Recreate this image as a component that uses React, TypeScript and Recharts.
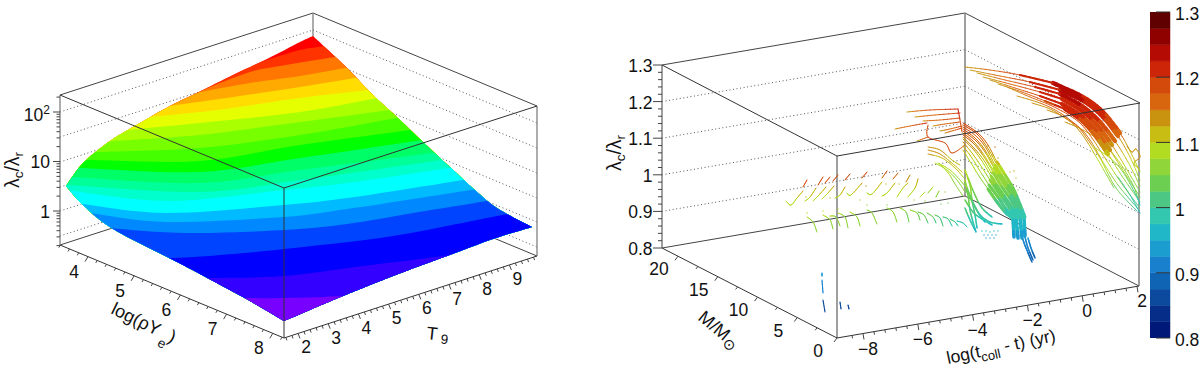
import React from 'react';
import { ScatterChart, Scatter, XAxis, YAxis, BarChart, Bar } from 'recharts';

type P = { x: number; y: number; v?: number };
type Label = { x: number; y: number; parts: { t: string; s?: number; z?: number }[]; anchor?: string; rot?: number; size?: number };

const FONT = '"Liberation Sans", "DejaVu Sans", sans-serif';

// ---------- left panel, plane coordinates of the projected box ----------
const surfaceEdgeUpperLeft: number[][] = [[66, 186], [83, 163], [110, 141], [133, 127], [170, 106], [203, 90], [233, 75], [267, 59], [300, 42], [313, 36]];
const surfaceEdgeUpperRight: number[][] = [[313, 36], [347, 68], [373, 95], [397, 117], [423, 142], [465, 181], [490, 203], [507, 214], [532, 227]];
const surfaceEdgeLowerRight: number[][] = [[532, 227], [493, 239], [447, 256], [393, 276], [343, 296], [284, 321]];
const surfaceEdgeLowerLeft: number[][] = [[284, 321], [250, 301], [213, 281], [177, 262], [113, 229], [83, 205], [66, 186]];
const surfaceColors = ['#ff0000', '#ff3300', '#ff7700', '#ffaa00', '#ffdd00', '#e6ff00', '#aaff00', '#77ff00', '#44ff00', '#00ff00', '#00ff66', '#00ff99', '#00ffcc', '#00ffff', '#00bbff', '#0088ff', '#0044ff', '#0000ff', '#3300ff', '#7700ff'];
const surfaceContours: number[][][] = [
  [[210, 82], [228, 74], [267, 60], [300, 50], [325, 46], [345, 42]],
  [[190, 97], [203, 90], [250, 72], [280, 66], [335, 57], [355, 54]],
  [[180, 100], [197, 93], [250, 83], [300, 76], [345, 68], [365, 65]],
  [[155, 110], [170, 106], [233, 97], [300, 87], [355, 78], [375, 75]],
  [[135, 120], [150, 117], [217, 110], [300, 98], [368, 90], [385, 87]],
  [[115, 133], [128, 130], [200, 123], [300, 112], [378, 98], [395, 95]],
  [[100, 143], [115, 141], [200, 135], [300, 122], [390, 110], [405, 107]],
  [[85, 153], [100, 152], [200, 148], [300, 135], [397, 118], [415, 115]],
  [[75, 160], [90, 160], [200, 161], [300, 145], [410, 130], [425, 127]],
  [[65, 168], [82, 168], [200, 172], [300, 158], [423, 140], [440, 137]],
  [[55, 176], [72, 177], [200, 183], [300, 170], [432, 153], [450, 150]],
  [[50, 184], [68, 185], [200, 192], [300, 180], [442, 160], [460, 157]],
  [[50, 188], [66, 190], [167, 201], [284, 190], [347, 183], [450, 168], [470, 165]],
  [[65, 200], [83, 204], [167, 213], [284, 205], [347, 198], [413, 188], [463, 180], [480, 177]],
  [[80, 210], [97, 214], [167, 222], [284, 217], [347, 209], [413, 199], [477, 189], [495, 186]],
  [[92, 224], [110, 228], [187, 233], [284, 230], [347, 224], [413, 213], [487, 201], [505, 198]],
  [[150, 255], [173, 258], [233, 254], [284, 249], [380, 238], [447, 226], [497, 216], [520, 212]],
  [[190, 278], [210, 278], [284, 276], [363, 266], [443, 256], [460, 252]],
  [[225, 298], [243, 298], [284, 298], [343, 296], [360, 293]],
];
const leftGridValues = [112, 137, 162, 187, 211, 236];
const leftZMajor = [1, 10, 100];
const leftZMinor = [0.2, 0.3, 0.4, 0.5, 0.6, 0.7, 0.8, 0.9, 2, 3, 4, 5, 6, 7, 8, 9, 20, 30, 40, 50, 60, 70, 80, 90, 200];
const rhoMajor = [4, 5, 6, 7, 8];
const rhoMinor = [3.4, 3.6, 3.8, 4.2, 4.4, 4.6, 4.8, 5.2, 5.4, 5.6, 5.8, 6.2, 6.4, 6.6, 6.8, 7.2, 7.4, 7.6, 7.8, 8.2];
const t9Major = [2, 3, 4, 5, 6, 7, 8, 9];
const t9Minor = [1.6, 1.8, 2.2, 2.4, 2.6, 2.8, 3.2, 3.4, 3.6, 3.8, 4.2, 4.4, 4.6, 4.8, 5.2, 5.4, 5.6, 5.8, 6.2, 6.4, 6.6, 6.8, 7.2, 7.4, 7.6, 7.8, 8.2, 8.4, 8.6, 8.8, 9.2, 9.4, 9.6, 9.8];

// ---------- right panel ----------
const rightZMajor = [0.8, 0.9, 1, 1.1, 1.2, 1.3];
const rightZMinor = [0.82, 0.84, 0.86, 0.88, 0.92, 0.94, 0.96, 0.98, 1.02, 1.04, 1.06, 1.08, 1.12, 1.14, 1.16, 1.18, 1.22, 1.24, 1.26, 1.28];
const rightZLabels = ['0.8', '0.9', '1', '1.1', '1.2', '1.3'];
const massMajor = [0, 5, 10, 15, 20];
const massMinor = [2.5, 7.5, 12.5, 17.5];
const timeMajor = [-8, -6, -4, -2, 0, 2];
const timeMinor = [-8.4, -7.6, -7.2, -6.8, -6.4, -5.6, -5.2, -4.8, -4.4, -3.6, -3.2, -2.8, -2.4, -1.6, -1.2, -0.8, -0.4, 0.4, 0.8, 1.2, 1.6];

// Colour bar
const barLevels = ['#001878', '#062e88', '#0b4a9c', '#1064b4', '#1880cc', '#1b9dcf', '#20b8c8', '#33c7b0', '#4dc884', '#6ccf52', '#90d53a', '#b2dc22', '#c8bd12', '#c9920f', '#d8660f', '#d44a0b', '#cc2508', '#b50b05', '#8f0000', '#600000'];
const barTicks = [0.8, 0.9, 1, 1.1, 1.2, 1.3];

// Tracks as [plane x, plane y, lambda ratio]
const lateTracks: number[][][] = [
  [[965, 67, 1.13], [990, 70, 1.16], [1020, 75, 1.2], [1053, 83, 1.225], [1083, 97, 1.225], [1103, 112, 1.21], [1120, 133, 1.17], [1132, 155, 1.11], [1140, 172, 1.07]],
  [[970, 70, 1.13], [1000, 76, 1.16], [1030, 82, 1.2], [1060, 90, 1.225], [1085, 102, 1.225], [1103, 117, 1.21], [1118, 136, 1.16], [1130, 157, 1.11], [1140, 180, 1.06]],
  [[977, 73, 1.13], [1005, 80, 1.16], [1035, 87, 1.2], [1060, 94, 1.225], [1082, 106, 1.225], [1100, 122, 1.2], [1115, 141, 1.15], [1128, 162, 1.1], [1140, 186, 1.05]],
  [[983, 77, 1.13], [1010, 84, 1.16], [1040, 92, 1.2], [1062, 99, 1.22], [1082, 111, 1.22], [1098, 126, 1.19], [1112, 145, 1.14], [1126, 168, 1.09], [1140, 192, 1.04]],
  [[990, 80, 1.13], [1015, 88, 1.16], [1040, 96, 1.2], [1062, 104, 1.22], [1080, 115, 1.21], [1096, 130, 1.18], [1110, 150, 1.13], [1124, 172, 1.08], [1140, 197, 1.03]],
  [[998, 84, 1.13], [1022, 92, 1.16], [1045, 101, 1.19], [1065, 109, 1.21], [1080, 119, 1.2], [1094, 134, 1.17], [1108, 154, 1.12], [1122, 176, 1.07], [1140, 202, 1.02]],
  [[1007, 87, 1.13], [1030, 97, 1.16], [1050, 105, 1.18], [1067, 114, 1.2], [1080, 123, 1.19], [1092, 138, 1.16], [1105, 158, 1.11], [1120, 181, 1.06], [1139, 207, 1.0]],
  [[1017, 96, 1.13], [1040, 103, 1.15], [1057, 111, 1.17], [1070, 120, 1.18], [1082, 130, 1.17], [1092, 143, 1.15], [1103, 162, 1.1], [1118, 185, 1.05], [1139, 210, 0.99]],
  [[1032, 103, 1.13], [1050, 109, 1.14], [1065, 118, 1.16], [1078, 127, 1.16], [1088, 140, 1.14], [1100, 158, 1.1], [1116, 188, 1.04], [1137, 211, 0.99]],
  [[1047, 110, 1.13], [1060, 115, 1.14], [1072, 123, 1.15], [1084, 137, 1.14], [1098, 160, 1.09], [1114, 188, 1.04]],
  [[1065, 122, 1.13], [1083, 130, 1.13], [1103, 143, 1.12], [1120, 163, 1.09], [1133, 185, 1.04], [1139, 202, 1.02]],
  [[1095, 148, 1.09], [1110, 158, 1.08], [1123, 172, 1.05], [1136, 195, 1.0], [1140, 205, 0.99]],
  [[1118, 177, 1.02], [1130, 195, 1.0], [1140, 213, 0.97]],
  [[1127, 146, 1.15], [1132, 152, 1.15], [1136, 149, 1.15], [1140, 157, 1.14], [1134, 163, 1.12], [1140, 170, 1.1]],
];
const shellLines: number[][][] = [
  [[907, 112, 1.14], [930, 110, 1.18], [958, 109, 1.22]],
  [[915, 117, 1.14], [935, 115, 1.17], [960, 113, 1.21]],
  [[923, 121, 1.14], [940, 120, 1.17], [960, 118, 1.2]],
  [[895, 129, 1.14], [910, 126, 1.17], [927, 123, 1.22]],
  [[933, 126, 1.14], [945, 124, 1.16], [960, 122, 1.19]],
  [[940, 131, 1.14], [950, 129, 1.16], [962, 126, 1.19]],
  [[945, 133, 1.14], [952, 131, 1.16], [962, 128, 1.19]],
  [[917, 141, 1.14], [928, 137, 1.18]],
  [[958, 109, 1.22], [960, 120, 1.2], [962, 132, 1.18]],
  [[928, 125, 1.2], [928, 137, 1.19], [945, 143, 1.19], [952, 153, 1.18], [965, 145, 1.17]],
  [[928, 147, 1.14], [940, 150, 1.13], [952, 160, 1.12], [960, 165, 1.11]],
  [[928, 150, 1.14], [940, 154, 1.13], [953, 164, 1.12], [962, 172, 1.1]],
  [[928, 154, 1.13], [942, 158, 1.12], [955, 168, 1.11], [964, 178, 1.09]],
  [[935, 163, 1.09], [947, 170, 1.08], [957, 180, 1.07], [965, 192, 1.05]],
  [[938, 163, 1.09], [950, 170, 1.08], [960, 180, 1.06], [965, 186, 1.05]],
  [[941, 165, 1.09], [949, 174, 1.08], [955, 184, 1.06], [963, 196, 1.05]],
];
const mainFan: number[][][] = [
  [[963, 123, 1.2], [978, 133, 1.18], [988, 145, 1.15], [997, 162, 1.11], [1007, 178, 1.07], [1015, 192, 1.03], [1025, 217, 0.98]],
  [[963, 127, 1.19], [976, 136, 1.17], [986, 148, 1.14], [995, 165, 1.1], [1005, 181, 1.06], [1014, 195, 1.03], [1023, 218, 0.98]],
  [[963, 131, 1.18], [975, 140, 1.16], [985, 152, 1.13], [994, 168, 1.09], [1004, 184, 1.06], [1013, 198, 1.02], [1021, 218, 0.98]],
  [[963, 135, 1.16], [974, 144, 1.15], [984, 157, 1.12], [993, 172, 1.08], [1002, 187, 1.05], [1011, 200, 1.02], [1020, 218, 0.98]],
  [[963, 139, 1.15], [973, 149, 1.13], [982, 161, 1.1], [991, 176, 1.07], [1000, 190, 1.04], [1009, 203, 1.01], [1018, 218, 0.98]],
  [[963, 142, 1.13], [972, 153, 1.12], [981, 166, 1.09], [990, 180, 1.06], [999, 193, 1.04], [1008, 206, 1.01], [1016, 218, 0.98]],
  [[963, 146, 1.12], [972, 158, 1.1], [980, 171, 1.08], [989, 185, 1.05], [998, 197, 1.03], [1006, 209, 1.0], [1014, 218, 0.98]],
  [[963, 150, 1.11], [971, 163, 1.09], [979, 176, 1.07], [988, 189, 1.05], [997, 202, 1.02], [1005, 212, 1.0], [1012, 218, 0.98]],
];
const mainFanUpperExtra: number[][][] = [
  [[963, 125, 1.2], [977, 134, 1.18], [987, 147, 1.14], [996, 163, 1.1]],
  [[963, 129, 1.19], [975, 138, 1.17], [985, 150, 1.13], [994, 166, 1.09]],
  [[963, 133, 1.17], [974, 142, 1.15], [984, 155, 1.12], [993, 170, 1.08]],
  [[963, 137, 1.15], [973, 147, 1.14], [983, 159, 1.11], [992, 174, 1.07]],
];
const fanBlock: number[][][] = [
  [[1013, 218, 0.98], [1014, 237, 0.94]],
  [[1016, 218, 0.98], [1018, 238, 0.94]],
  [[1020, 218, 0.98], [1022, 238, 0.94]],
  [[1024, 218, 0.98], [1025, 236, 0.94]],
];
const fanTail: number[][][] = [
  [[1022, 237, 0.93], [1026, 248, 0.91], [1032, 262, 0.88]],
  [[1025, 237, 0.93], [1028, 248, 0.91], [1033, 260, 0.88]],
  [[1028, 238, 0.93], [1031, 248, 0.91], [1035, 258, 0.88]],
];
const lowerFan: number[][][] = [
  [[965, 170, 1.09], [970, 185, 1.07], [972, 200, 1.04], [975, 215, 1.0], [977, 228, 0.97]],
  [[965, 180, 1.08], [968, 195, 1.05], [970, 210, 1.02], [973, 222, 0.99], [976, 232, 0.97]],
  [[966, 190, 1.05], [974, 205, 1.02], [980, 215, 1.0], [990, 222, 0.98], [1002, 224, 0.97]],
  [[965, 200, 1.04], [973, 212, 1.01], [982, 219, 0.99], [992, 225, 0.97]],
  [[965, 208, 1.02], [970, 220, 0.99], [975, 230, 0.97]],
  [[968, 178, 1.07], [975, 195, 1.04], [982, 208, 1.01], [992, 217, 0.98]],
  [[966, 185, 1.06], [971, 198, 1.03], [978, 212, 1.0], [985, 222, 0.97]],
];
const hookTracks: number[][][] = [
  [[786, 201, 1.09], [791, 205, 1.08], [797, 198, 1.1], [803, 191, 1.13]], [[803, 187, 1.16], [807, 180, 1.2]],
  [[805, 201, 1.09], [810, 197, 1.1], [816, 188, 1.13]], [[818, 185, 1.17], [823, 177, 1.2]],
  [[813, 201, 1.09], [819, 195, 1.1], [826, 187, 1.13]], [[825, 183, 1.17], [830, 177, 1.2]],
  [[822, 199, 1.09], [828, 193, 1.1], [834, 186, 1.13]], [[833, 181, 1.17], [838, 175, 1.2]],
  [[835, 198, 1.09], [840, 195, 1.1], [845, 187, 1.13]], [[845, 180, 1.17], [850, 174, 1.2]],
  [[847, 193, 1.09], [851, 195, 1.09], [862, 183, 1.13]], [[862, 178, 1.17], [867, 172, 1.2]],
  [[867, 193, 1.09], [872, 194, 1.09], [882, 182, 1.12]], [[882, 178, 1.16], [887, 171, 1.18]],
  [[882, 196, 1.08], [887, 193, 1.09], [895, 183, 1.12]], [[893, 179, 1.15], [898, 173, 1.17]],
  [[897, 197, 1.08], [903, 188, 1.1], [908, 183, 1.12]], [[906, 182, 1.13], [910, 175, 1.15]],
  [[908, 197, 1.08], [915, 188, 1.1], [918, 179, 1.13]],
  [[920, 197, 1.08], [925, 192, 1.09]], [[928, 193, 1.07], [933, 187, 1.08]], [[936, 197, 1.06], [939, 191, 1.07]],
  [[807, 217, 1.08], [813, 222, 1.07], [817, 232, 1.06]],
  [[823, 215, 1.08], [830, 220, 1.07], [833, 229, 1.06]],
  [[830, 216, 1.08], [836, 217, 1.07], [840, 226, 1.06]],
  [[838, 213, 1.08], [845, 217, 1.07], [848, 228, 1.06]],
  [[850, 212, 1.08], [857, 217, 1.07], [860, 226, 1.06]],
  [[867, 210, 1.07], [872, 213, 1.06], [877, 224, 1.05]],
  [[887, 208, 1.07], [893, 212, 1.06], [897, 222, 1.05]],
  [[900, 208, 1.06], [906, 212, 1.05], [909, 222, 1.04]],
  [[910, 210, 1.05], [917, 213, 1.05], [920, 220, 1.03]],
  [[918, 212, 1.05], [924, 215, 1.04], [928, 223, 1.02]],
  [[927, 213, 1.04], [933, 217, 1.03], [936, 223, 1.01]],
  [[935, 215, 1.03], [940, 218, 1.02], [943, 226, 1.0]],
  [[943, 217, 1.02], [948, 219, 1.01], [952, 226, 0.99]],
  [[950, 219, 1.01], [955, 222, 1.0], [958, 226, 0.98]],
  [[957, 221, 1.0], [963, 223, 0.99], [967, 227, 0.97]],
];
const blueDashes: number[][][] = [
  [[822, 273, 0.93], [822, 276, 0.93]], [[822, 280, 0.92], [823, 293, 0.91]],
  [[823, 300, 0.87], [825, 312, 0.86]], [[840, 302, 0.86], [841, 309, 0.86]], [[848, 305, 0.87], [849, 309, 0.87]],
];
const looseDots: number[][] = [
  [806, 197, 1.1], [830, 198, 1.1], [860, 200, 1.09], [866, 186, 1.14], [886, 184, 1.12], [899, 184, 1.12], [914, 200, 1.07], [925, 201, 1.06], [945, 192, 1.06], [941, 204, 1.04], [948, 203, 1.03],
  [807, 213, 1.08], [823, 211, 1.08], [838, 209, 1.08], [887, 205, 1.07], [867, 205, 1.07],
  [982, 231, 0.96], [986, 231, 0.96], [990, 232, 0.96], [994, 231, 0.96], [998, 231, 0.96], [984, 235, 0.95], [988, 235, 0.95], [992, 235, 0.95], [996, 235, 0.95], [986, 238, 0.95], [990, 238, 0.95], [994, 238, 0.95],
  [988, 146, 1.18], [995, 147, 1.17], [992, 155, 1.15], [998, 158, 1.14], [1004, 174, 1.12], [1010, 172, 1.12], [1016, 178, 1.12], [1012, 186, 1.08], [1018, 190, 1.07], [1014, 171, 1.13],
];

// ---------- axis placement on the plane ----------
const leftZ = (v: number): P => ({ x: 60, y: 211 - 49.5 * Math.log10(v) });
const rhoAt = (v: number): P => { const x = 88 + (v - 4) * 46.2; return { x, y: 245 + 0.415 * (x - 60) }; };
const t9At = (v: number): P => { const x = 298 + (v - 2) * 30.2; return { x, y: 338 - 0.324 * (x - 284) }; };
const rightZ = (v: number): P => ({ x: 662, y: 248 - (v - 0.8) * 366 });
const massAt = (v: number): P => { const x = 837 - v * 7.95; return { x, y: 338 - 0.514 * (837 - x) }; };
const timeAt = (v: number): P => { const x = 863 + (v + 8) * 27.4; return { x, y: 338 - 0.172 * (x - 837) }; };

const tick = (f: (v: number) => P, dx: number, dy: number) => (v: number): P[] => { const a = f(v); return [a, { x: a.x + dx, y: a.y + dy }]; };
const pts = (a: number[][]): P[] => a.map(([x, y, v]) => ({ x, y, v }));

const leftPanelBack: P[] = pts([[60, 245], [313, 163], [313, 163], [537, 256], [60, 95], [313, 13], [313, 13], [537, 106]]);
const leftGrid: P[] = leftGridValues.flatMap((y) => pts([[60, y], [313, y - 82], [313, y - 82], [537, y + 11]]));
const leftFront: P[] = pts([[60, 95], [284, 188], [284, 188], [537, 106], [284, 188], [284, 338], [60, 245], [284, 338], [284, 338], [537, 256]]);
const leftGrayAxes: P[] = pts([[60, 95], [60, 245], [537, 106], [537, 256], [313, 13], [313, 163]]);
const leftTicks: P[] = [
  ...leftZMajor.flatMap(tick(leftZ, -7, 0)), ...leftZMinor.flatMap(tick(leftZ, -3.5, 0)),
  ...rhoMajor.flatMap(tick(rhoAt, -3, 5)), ...rhoMinor.flatMap(tick(rhoAt, -1.5, 2.5)),
  ...t9Major.flatMap(tick(t9At, 2, 5)), ...t9Minor.flatMap(tick(t9At, 1, 3)),
];
const rightBack: P[] = pts([[662, 248], [965, 196], [965, 196], [1139, 286], [662, 65], [965, 13], [965, 13], [1140, 103]]);
const rightGrid: P[] = rightZMajor.slice(1, 5).flatMap((v) => { const y = rightZ(v).y; return pts([[662, y], [965, y - 52], [965, y - 52], [1139, y + 38]]); });
const rightFront: P[] = pts([[662, 65], [837, 156], [837, 156], [1140, 103], [662, 248], [837, 338], [837, 338], [1139, 286]]);
const rightGrayAxes: P[] = pts([[662, 65], [662, 248], [837, 156], [837, 338], [965, 13], [965, 196], [1139, 103], [1139, 286]]);
const rightTicks: P[] = [
  ...rightZMajor.flatMap(tick(rightZ, -9, 0)), ...rightZMinor.flatMap(tick(rightZ, -4, 0)),
  ...massMajor.flatMap(tick(massAt, -3, 4)), ...massMinor.flatMap(tick(massAt, -2, 2.5)),
  ...timeMajor.flatMap(tick(timeAt, 1, 6)), ...timeMinor.flatMap(tick(timeAt, 0.5, 3)),
];

const labels: Label[] = [
  { x: 50, y: 121, anchor: 'end', parts: [{ t: '10' }, { t: '2', s: -7 }] },
  { x: 50, y: 168, anchor: 'end', parts: [{ t: '10' }] },
  { x: 50, y: 218, anchor: 'end', parts: [{ t: '1' }] },
  { x: 19, y: 170, rot: -90, size: 19.5, anchor: 'middle', parts: [{ t: 'λ' }, { t: 'c', s: 4, z: 13.5 }, { t: '/λ' }, { t: 'r', s: 4, z: 13.5 }] },
  ...rhoMajor.map((v) => { const a = rhoAt(v); return { x: a.x - 14, y: a.y + 21, anchor: 'middle', parts: [{ t: String(v) }] }; }),
  ...t9Major.map((v) => { const a = t9At(v); return { x: a.x + 8, y: a.y + 20, anchor: 'middle', parts: [{ t: String(v) }] }; }),
  { x: 110, y: 313, rot: 26, size: 18, parts: [{ t: 'log(ρY' }, { t: ' e', s: 9, z: 13.5 }, { t: ')' }] },
  { x: 426, y: 339, rot: 6, size: 18, parts: [{ t: 'T' }, { t: ' 9', s: 3, z: 13.5 }] },
  ...rightZMajor.map((v, i) => ({ x: 652.5, y: rightZ(v).y + 7, anchor: 'end', parts: [{ t: rightZLabels[i] }] })),
  { x: 621, y: 153, rot: -90, size: 19.5, anchor: 'middle', parts: [{ t: 'λ' }, { t: 'c', s: 4, z: 13.5 }, { t: '/λ' }, { t: 'r', s: 4, z: 13.5 }] },
  ...massMajor.map((v) => { const a = massAt(v); return { x: a.x - 19, y: a.y + 19, anchor: 'middle', parts: [{ t: String(v) }] }; }),
  ...timeMajor.map((v) => { const a = timeAt(v); return { x: a.x + 5, y: a.y + 21, anchor: 'middle', parts: [{ t: v < 0 ? '−' + Math.abs(v) : String(v) }] }; }),
  { x: 697, y: 319, rot: 40, size: 18, parts: [{ t: 'M/M' }, { t: '⊙', s: 4, z: 15 }] },
  { x: 948, y: 364, rot: -12, size: 17.5, parts: [{ t: 'log(t' }, { t: 'coll', s: 5, z: 13 }, { t: ' - t) (yr)' }] },
];

// ---------- drawing helpers ----------
const NoDot = () => <g />;
const toPath = (p: { x: number; y: number }[]) => 'M' + p.map((q) => `${q.x},${q.y}`).join('L');
const shade = (v: number) => barLevels[Math.max(0, Math.min(19, Math.floor((v - 0.8) / 0.025)))];
const cr = (a: number, b: number, c: number, d: number, t: number) =>
  0.5 * (2 * b + (c - a) * t + (2 * a - 5 * b + 4 * c - d) * t * t + (3 * b - a - 3 * c + d) * t * t * t);
// Smooth drawing of a polyline already placed by the chart's scales.
const smooth = (q: { x: number; y: number }[], n = 8) => {
  const at = (i: number) => q[Math.max(0, Math.min(q.length - 1, i))];
  const out = [q[0]];
  for (let i = 0; i + 1 < q.length; i++) {
    for (let k = 1; k <= n; k++) {
      const t = k / n;
      out.push({ x: cr(at(i - 1).x, at(i).x, at(i + 1).x, at(i + 2).x, t), y: cr(at(i - 1).y, at(i).y, at(i + 1).y, at(i + 2).y, t) });
    }
  }
  return out;
};

function Segments(key: string, data: P[], stroke: string, width: number, dash?: string) {
  return (
    <Scatter key={key} data={data} shape={NoDot} isAnimationActive={false}
      line={(p: any) => {
        let d = '';
        for (let i = 0; i + 1 < p.points.length; i += 2) d += toPath([p.points[i], p.points[i + 1]]);
        return <path d={d} fill="none" stroke={stroke} strokeWidth={width} strokeDasharray={dash} />;
      }} />
  );
}

function Track(key: string, raw: number[][], width: number) {
  return (
    <Scatter key={key} data={pts(raw)} shape={NoDot} isAnimationActive={false}
      line={(p: any) => {
        const q = p.points as { x: number; y: number }[];
        const n = 6;
        const s = smooth(q, n);
        const out: React.ReactNode[] = [];
        for (let j = 0; j + 1 < s.length; j++) {
          const i = Math.floor(j / n);
          const t = (j % n + 0.5) / n;
          const v = raw[i][2] + (raw[i + 1][2] - raw[i][2]) * t;
          out.push(<line key={j} x1={s[j].x} y1={s[j].y} x2={s[j + 1].x} y2={s[j + 1].y} stroke={shade(v)} strokeWidth={width} strokeLinecap="round" />);
        }
        return <g>{out}</g>;
      }} />
  );
}

const DotShape = (props: any) => (
  <rect x={props.cx - 0.7} y={props.cy - 0.7} width={1.4} height={1.4} fill={shade(props.payload.v)} opacity={0.7} />
);

const LabelShape = (props: any) => {
  const l: Label = props.payload;
  let shift = 0;
  return (
    <text x={props.cx} y={props.cy} textAnchor={(l.anchor || 'start') as any} fontFamily={FONT} fontSize={l.size || 17.5} fill="#111"
      transform={l.rot ? `rotate(${l.rot} ${props.cx} ${props.cy})` : undefined}>
      {l.parts.map((part, i) => {
        const target = part.s || 0;
        const dy = target - shift;
        shift = target;
        return <tspan key={i} dy={dy} fontSize={part.z || (part.s ? 12 : undefined)}>{part.t}</tspan>;
      })}
    </text>
  );
};

const colorRow = [barLevels.reduce((acc: any, _c, i) => { acc['l' + i] = 0.025; return acc; }, { name: 'z', base: 0.8 })];

export default function App() {
  const edges = [surfaceEdgeUpperLeft, surfaceEdgeUpperRight, surfaceEdgeLowerRight, surfaceEdgeLowerLeft];
  const sizes = edges.map((e) => e.length);
  return (
    <div style={{ position: 'absolute', left: 0, top: 0, width: 1200, height: 371, background: '#fff' }}>
      <div style={{ position: 'absolute', left: 0, top: 0 }}>
        <ScatterChart width={1200} height={371} margin={{ top: 0, right: 0, bottom: 0, left: 0 }}>
          <XAxis dataKey="x" type="number" domain={[0, 1200]} hide allowDataOverflow />
          <YAxis dataKey="y" type="number" domain={[0, 371]} reversed hide allowDataOverflow />
          {Segments('lg', leftGrid, '#555', 1, '1 2.6')}
          {Segments('lb', leftPanelBack, '#444', 1)}
          {Segments('lga', leftGrayAxes, '#808080', 1.3)}
          <Scatter data={pts(edges.flat())} shape={NoDot} isAnimationActive={false}
            line={(p: any) => {
              let offset = 0;
              const outline: { x: number; y: number }[] = [];
              sizes.forEach((size) => { outline.push(...smooth(p.points.slice(offset, offset + size))); offset += size; });
              const d = toPath(outline) + 'Z';
              return (
                <g>
                  <clipPath id="surfaceClip"><path d={d} /></clipPath>
                  <path d={d} fill={surfaceColors[0]} />
                </g>
              );
            }} />
          {surfaceContours.map((c, i) => (
            <Scatter key={'b' + i} data={pts([[-100, 500], [-100, c[0][1]], ...c, [1300, c[c.length - 1][1]], [1300, 500]])} shape={NoDot} isAnimationActive={false}
              line={(p: any) => {
                const q = p.points;
                const curve = smooth(q.slice(2, q.length - 2));
                return <path d={toPath([q[0], q[1], ...curve, q[q.length - 2], q[q.length - 1]]) + 'Z'} fill={surfaceColors[i + 1]} clipPath="url(#surfaceClip)" />;
              }} />
          ))}
          {Segments('lf', leftFront, '#333', 1)}
          {Segments('lt', leftTicks, '#444', 1)}

          {Segments('rg', rightGrid, '#555', 1, '1 2.6')}
          {Segments('rb', rightBack, '#444', 1)}
          {Segments('rga', rightGrayAxes, '#808080', 1.5)}
          {lateTracks.map((t, i) => Track('late' + i, t, 0.9))}
          {lateTracks.slice(0, 6).map((t, i) => Track('dense' + i, t.slice(3, 7), 4.2))}
          {lateTracks.slice(0, 6).map((t, i) => Track('dense2' + i, t.slice(2, 4), 2))}
          {shellLines.map((t, i) => Track('shell' + i, t, 0.9))}
          {mainFan.map((t, i) => Track('fan' + i, t, 1))}
          {mainFanUpperExtra.map((t, i) => Track('fanx' + i, t, 1))}
          {mainFan.map((t, i) => Track('fanfill' + i, t.slice(3), 3))}
          {fanBlock.map((t, i) => Track('block' + i, t, 3.5))}
          {fanTail.map((t, i) => Track('tail' + i, t, 1.5))}
          {lowerFan.map((t, i) => Track('low' + i, t, 1.5))}
          {hookTracks.map((t, i) => Track('hook' + i, t, 1))}
          {blueDashes.map((t, i) => Track('dash' + i, t, 1.1))}
          <Scatter data={pts(looseDots)} shape={DotShape} isAnimationActive={false} />
          {Segments('rf', rightFront, '#333', 1)}
          {Segments('rt', rightTicks, '#444', 1)}
          <Scatter data={labels as any} shape={LabelShape} isAnimationActive={false} />
        </ScatterChart>
      </div>
      <div style={{ position: 'absolute', left: 1150, top: 0 }}>
        <BarChart width={50} height={371} data={colorRow} barCategoryGap={0} margin={{ top: 12, right: 0, bottom: 33, left: 0 }}>
          <XAxis dataKey="name" hide />
          <YAxis orientation="right" width={30} type="number" domain={[0.8, 1.3]} ticks={barTicks} allowDataOverflow axisLine={false}
            tickFormatter={(v: number) => String(v)} tickSize={-14} tickMargin={19} tickLine={{ stroke: '#333' }}
            tick={{ fill: '#111', fontSize: 17.5, fontFamily: FONT, dy: 2, textAnchor: 'start' }} interval={0} />
          <Bar dataKey="base" stackId="s" fill="none" isAnimationActive={false} />
          {barLevels.map((c, i) => <Bar key={c} dataKey={'l' + i} stackId="s" fill={c} stroke={c} strokeWidth={0.5} isAnimationActive={false} />)}
        </BarChart>
      </div>
    </div>
  );
}
